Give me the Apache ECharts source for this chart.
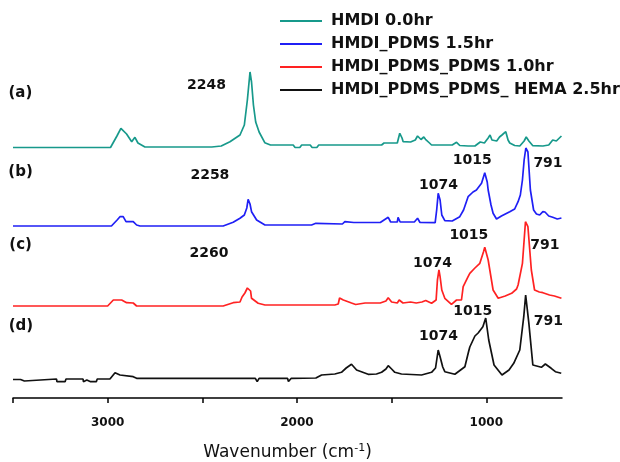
<!DOCTYPE html>
<html>
<head>
<meta charset="utf-8">
<script src="https://cdn.jsdelivr.net/npm/echarts@6/dist/echarts.min.js"></script>
<style>
    html, body { margin: 0; padding: 0; background: #fff; }
    #chart { width: 620px; height: 462px; }
</style>
</head>
<body>
<div id="chart"></div>
<script>
    // legend names
    var seriesNames = ['HMDI 0.0hr', 'HMDI_PDMS 1.5hr', 'HMDI_PDMS_PDMS 1.0hr', 'HMDI_PDMS_PDMS_ HEMA 2.5hr'];
    // x axis ticks (cm-1)
    var tickMarks = [3500, 3000, 2500, 2000, 1500, 1000];
    var tickLabels = [3000, 2000, 1000];

    // spectra, [wavenumber, intensity incl. stacking offset]
    // (a) HMDI 0.0hr
    var specA = [[3500,250.5],[2985,250.5],[2951,262],[2930,269.7],[2900,264],[2873,256.3],[2856,260.7],[2840,255],[2803,251],
        [2450,251],[2400,252],[2354,256.3],[2301,263],[2278,273],[2262,298],[2248,326],[2240,316],[2230,293],[2218,276],
        [2200,266],[2170,255.3],[2140,253],[2020,253],[2010,250.5],[1985,250.5],[1975,253],[1930,253],[1920,250.5],
        [1895,250.5],[1885,253],[1553,253],[1540,255],[1470,255],[1457,264.7],[1445,260],[1439,256.3],[1400,256],
        [1375,258],[1363,262],[1345,258.5],[1330,261],[1321,258.7],[1300,255],[1289,253],[1180,253],[1157,255.7],
        [1140,252.5],[1096,252],[1060,252],[1032,256],[1010,255],[990,260],[980,263],[970,258],[945,257],[930,261],
        [917,263],[897,266.3],[885,258],[876,255],[850,252.5],[823,252],[800,257],[789,261],[775,257],[754,252.3],
        [701,252],[670,253],[649,258],[630,257],[603,262]];
    // (b) HMDI_PDMS 1.5hr
    var specB = [[3500,172],[2980,172],[2950,178],[2935,181.3],[2918,181.3],[2903,176.3],[2865,176.3],[2847,173],[2829,172],
        [2390,172],[2337,175.7],[2301,179.7],[2278,183],[2265,190],[2258,198.7],[2248,194],[2240,186.3],[2213,178],
        [2169,173],[1923,173],[1920,174.7],[1900,174.7],[1890,173],[1760,174],[1747,176.3],[1700,175.5],[1560,175.5],
        [1540,178],[1518,180.7],[1505,176],[1470,176],[1466,180.7],[1455,176],[1380,176],[1363,179.7],[1350,175.5],
        [1270,175.3],[1262,188],[1254,204.7],[1244,198],[1235,183],[1219,177.3],[1180,177],[1140,181.3],[1120,188],
        [1096,201.3],[1070,206],[1052,208],[1025,214.7],[1008,225.3],[995,216],[990,208],[975,193],[964,184.7],
        [946,179],[920,182],[876,186.3],[850,189],[832,196.3],[820,203],[809,218],[800,238],[791,250],[780,246],
        [767,208],[750,188],[735,184],[718,183],[701,186.3],[690,186],[670,182],[649,180.7],[625,179],[603,180]];
    // (c) HMDI_PDMS_PDMS 1.0hr
    var specC = [[3500,92],[3000,92],[2970,98],[2926,98],[2900,95.3],[2865,95],[2847,92],[2390,92],[2337,95.3],[2301,96],
        [2290,101],[2275,105],[2262,110],[2255,111.3],[2245,107],[2240,99.7],[2205,94.7],[2169,93],[1800,93],[1782,94],
        [1775,100],[1768,101.3],[1755,98],[1747,96],[1712,95],[1690,93.5],[1640,95],[1560,95],[1530,97],[1518,100.3],
        [1500,96],[1470,95],[1460,98],[1440,95],[1400,96],[1390,97.5],[1370,95],[1340,96],[1320,97.5],[1289,94.7],
        [1265,98],[1258,118],[1250,128],[1244,121.3],[1235,108],[1219,99.7],[1184,93.7],[1157,98],[1131,98],
        [1122,111.3],[1096,121.3],[1087,124.7],[1060,130],[1034,134.7],[1015,146],[1008,150.7],[990,138],[964,108],
        [937,99.7],[900,102],[866,104.7],[840,109],[832,113],[809,134.7],[800,158],[793,176.3],[780,171.3],[762,128],
        [745,108],[720,106],[701,105.3],[666,103],[640,102],[603,99.7]];
    // (d) HMDI_PDMS_PDMS_HEMA 2.5hr
    var specD = [[3500,18.5],[3490,16.5],[3480,18.5],[3470,16.5],[3460,18.5],[3440,17],[3430,19],[3270,19],[3268,16.3],
        [3225,16.3],[3220,19],[3130,19],[3128,16.3],[3110,18],[3090,16.3],[3060,16.3],[3055,19],[2988,19],[2961,25.3],
        [2935,23],[2865,21.3],[2847,19.7],[2220,19.7],[2210,16.3],[2200,19.7],[2050,19.7],[2045,16.5],[2030,19.7],
        [1900,20],[1870,23],[1800,24],[1765,25.7],[1740,30],[1712,33.7],[1685,28],[1624,23.7],[1580,24],[1553,25.7],
        [1530,29],[1518,32.3],[1500,29],[1483,25.7],[1448,24],[1342,23],[1289,25.7],[1268,30],[1254,48],[1244,41.3],
        [1230,31],[1219,26.3],[1166,23.7],[1113,31.3],[1094,46],[1087,51],[1060,62],[1043,65],[1018,71.3],[1003,80],
        [987,58],[959,33],[917,23],[880,28],[855,34.7],[823,48],[802,81.3],[792,103],[775,74.7],[754,33],[709,30.7],
        [688,34],[657,29.7],[635,26.3],[604,24.7]];

    var colors = ['#17998b', '#1f1ff5', '#ff2222', '#111111'];
    var FONT = 'DejaVu Sans';

    // text notes on the plot, placed in axis units
    function notes(list) {
        return {
            silent: true,
            symbol: 'circle',
            symbolSize: 1,
            itemStyle: { color: 'rgba(0,0,0,0)' },
            label: {
                show: true,
                position: 'inside',
                formatter: '{b}',
                color: '#111',
                fontFamily: FONT,
                fontWeight: 'bold',
                fontSize: 14
            },
            data: list.map(function (n) {
                return { name: n[0], coord: [n[1], n[2]], label: n[3] ? { fontSize: n[3] } : {} };
            })
        };
    }

    var notesA = [['(a)', 3461, 304.7, 15], ['2248', 2478, 313]];
    var notesB = [['(b)', 3460, 226.3, 15], ['2258', 2460, 223], ['1074', 1252, 212.5], ['1015', 1074, 237.3], ['791', 674, 234.7]];
    var notesC = [['(c)', 3460, 153, 15], ['2260', 2465, 144.7], ['1074', 1284, 135], ['1015', 1092, 163], ['791', 690, 153]];
    var notesD = [['(d)', 3458, 72, 15], ['1074', 1252, 61.3], ['1015', 1071, 86.3], ['791', 672, 76.3]];

    var specs = [specA, specB, specC, specD];
    var allNotes = [notesA, notesB, notesC, notesD];

    var series = specs.map(function (s, i) {
        return {
            name: seriesNames[i],
            type: 'line',
            data: s,
            symbol: 'none',
            showSymbol: false,
            color: colors[i],
            lineStyle: { width: 1.7, color: colors[i] },
            markPoint: notes(allNotes[i])
        };
    });

    var myChart = echarts.init(document.getElementById('chart'));
    myChart.setOption({
        animation: false,
        backgroundColor: '#fff',
        grid: { left: 13, right: 58, top: 10, bottom: 64, containLabel: false, outerBoundsMode: 'none' },
        legend: {
            orient: 'vertical',
            left: 275,
            top: 8,
            icon: 'rect',
            itemWidth: 42,
            itemHeight: 2,
            itemGap: 7,
            textStyle: { fontFamily: FONT, fontSize: 16, fontWeight: 'bold', color: '#111', padding: [0, 0, 0, 4] },
            data: seriesNames
        },
        xAxis: {
            type: 'value',
            min: 600,
            max: 3500,
            inverse: true,
            splitLine: { show: false },
            axisLine: { lineStyle: { color: '#000', width: 1.5 } },
            axisTick: { customValues: tickMarks, length: 5, lineStyle: { color: '#000', width: 1.5 } },
            axisLabel: {
                customValues: tickLabels, margin: 19, fontFamily: FONT, fontSize: 12, fontWeight: 'bold', color: '#111',
                formatter: function (v) { return String(v); }
            },
            name: '{a|Wavenumber (cm}{s|-1}{a|)}',
            nameLocation: 'middle',
            nameGap: 45,
            nameTextStyle: {
                rich: {
                    a: { fontFamily: FONT, fontSize: 17, color: '#111', lineHeight: 20 },
                    s: { fontFamily: FONT, fontSize: 11, color: '#111', verticalAlign: 'top', lineHeight: 12 }
                }
            }
        },
        yAxis: { type: 'value', min: 0, max: 388, show: false },
        series: series
    });
</script>
</body>
</html>
